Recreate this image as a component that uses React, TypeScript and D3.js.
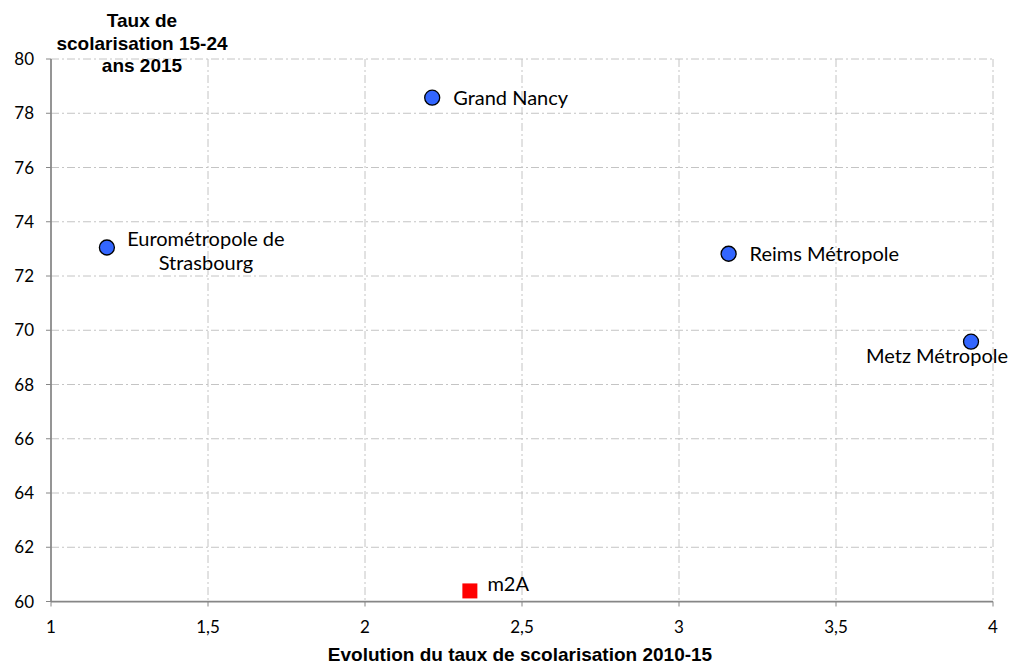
import React from "react";
import * as d3 from "d3";

const names = ["Grand Nancy", "Eurométropole de|Strasbourg", "Reims Métropole", "Metz Métropole", "m2A"];
const evolution = [2.214, 1.178, 3.158, 3.93, 2.334];
const taux = [78.575, 73.05, 72.82, 69.58, 60.39];
const shapes = ["circle", "circle", "circle", "circle", "square"];
const labelPos = ["right", "right2", "right", "below", "rightUp"];
const xTicks = [1, 1.5, 2, 2.5, 3, 3.5, 4];
const yTicks = [60, 62, 64, 66, 68, 70, 72, 74, 76, 78, 80];

const W = 1011, H = 664;
const x = d3.scaleLinear().domain([1, 4]).range([51, 993]);
const y = d3.scaleLinear().domain([60, 80]).range([601.5, 59]);
const fmt = (v: number) => String(v).replace(".", ",");
const labelFont = "Lato, sans-serif";
const titleFont = "'Liberation Sans', Arial, sans-serif";

export default function App() {
  return (
    <svg width={W} height={H} style={{ position: "absolute", left: 0, top: 0, background: "#fff" }}>
      {xTicks.slice(1).map((t) => (
        <line key={"gx" + t} x1={x(t)} x2={x(t)} y1={y(80)} y2={y(60)} stroke="#c4c4c4" strokeWidth={1} strokeDasharray="8,3,2,3" />
      ))}
      {yTicks.slice(1).map((t) => (
        <line key={"gy" + t} x1={x(1)} x2={x(4)} y1={y(t)} y2={y(t)} stroke="#c4c4c4" strokeWidth={1} strokeDasharray="8,3,2,3" />
      ))}
      <line x1={x(1)} x2={x(1)} y1={y(80)} y2={y(60)} stroke="#868686" strokeWidth={1.75} />
      <line x1={x(1)} x2={x(4)} y1={y(60)} y2={y(60)} stroke="#868686" strokeWidth={1.75} />
      {yTicks.map((t) => (
        <g key={"yt" + t}>
          <line x1={x(1) - 5} x2={x(1)} y1={y(t)} y2={y(t)} stroke="#868686" strokeWidth={1} />
          <text x={34} y={y(t)} dy="0.36em" textAnchor="end" fontFamily={labelFont} fontSize={17} fill="#000">{t}</text>
        </g>
      ))}
      {xTicks.map((t) => (
        <g key={"xt" + t}>
          <line x1={x(t)} x2={x(t)} y1={y(60)} y2={y(60) + 5} stroke="#868686" strokeWidth={1} />
          <text x={x(t)} y={627} dy="0.36em" textAnchor="middle" fontFamily={labelFont} fontSize={17} fill="#000">{fmt(t)}</text>
        </g>
      ))}
      <text fontFamily={titleFont} fontWeight="bold" fontSize={19} textAnchor="middle" fill="#000">
        <tspan x={142} y={27}>Taux de</tspan>
        <tspan x={142} y={49.5}>scolarisation 15-24</tspan>
        <tspan x={142} y={72}>ans 2015</tspan>
      </text>
      <text x={520} y={661} fontFamily={titleFont} fontWeight="bold" fontSize={19} textAnchor="middle" fill="#000">
        Evolution du taux de scolarisation 2010-15
      </text>
      {names.map((n, i) => {
        const cx = x(evolution[i]), cy = y(taux[i]);
        const mark = shapes[i] === "circle"
          ? <circle cx={cx} cy={cy} r={7.5} fill="#3366ff" stroke="#000" strokeWidth={1.3} />
          : <rect x={cx - 7.5} y={cy - 7.5} width={15} height={15} fill="#ff0000" />;
        const lines = n.split("|");
        let label;
        if (labelPos[i] === "right") {
          label = <text x={cx + 21} y={cy} dy="0.36em" fontFamily={labelFont} fontSize={20} fill="#000">{lines[0]}</text>;
        } else if (labelPos[i] === "right2") {
          label = (
            <text fontFamily={labelFont} fontSize={20} fill="#000" textAnchor="middle">
              <tspan x={cx + 99} y={246}>{lines[0]}</tspan>
              <tspan x={cx + 99} y={270}>{lines[1]}</tspan>
            </text>
          );
        } else if (labelPos[i] === "below") {
          label = <text x={cx - 34} y={cy + 21} textAnchor="middle" fontFamily={labelFont} fontSize={20} fill="#000">{lines[0]}</text>;
        } else {
          label = <text x={cx + 17.5} y={cy + 0.5} fontFamily={labelFont} fontSize={20} fill="#000">{lines[0]}</text>;
        }
        return <g key={n}>{mark}{label}</g>;
      })}
    </svg>
  );
}
